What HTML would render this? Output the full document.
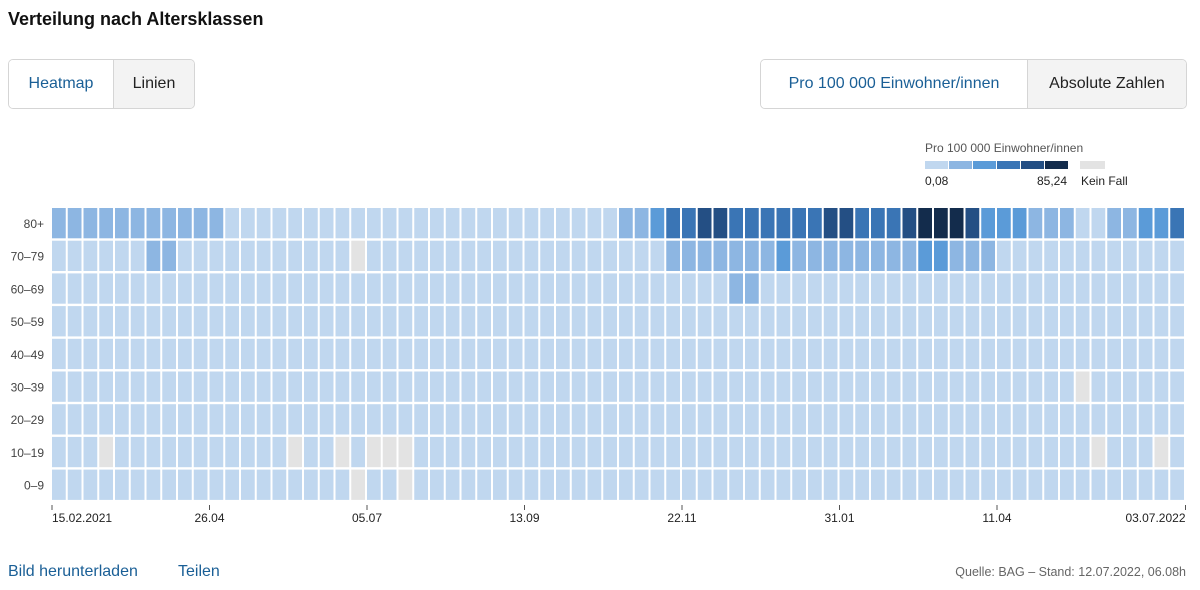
<!DOCTYPE html>
<html><head><meta charset="utf-8">
<style>
body{margin:0;width:1200px;height:590px;background:#fff;font-family:"Liberation Sans",sans-serif;position:relative;overflow:hidden}
.t{position:absolute;left:8px;top:9px;font-size:18px;font-weight:bold;color:#111}
.grp{position:absolute;top:59px;height:48px;border:1px solid #d5d5d5;border-radius:5px;display:flex;overflow:hidden;font-size:16px}
.grp div{display:flex;align-items:center;justify-content:center}
.a{color:#1a5f96;background:#fff}
.b{color:#222;background:#f3f3f3;border-left:1px solid #d5d5d5}
.foot{position:absolute;top:563px;font-size:16px;color:#1a5f96}
</style></head><body>
<div class="t">Verteilung nach Altersklassen</div>
<div class="grp" style="left:8px;width:185px"><div class="a" style="width:104px">Heatmap</div><div class="b" style="flex:1">Linien</div></div>
<div class="grp" style="left:760px;width:425px"><div class="a" style="width:266px">Pro 100 000 Einwohner/innen</div><div class="b" style="flex:1">Absolute Zahlen</div></div>
<svg id="s" width="1200" height="590" style="position:absolute;left:0;top:0" font-family="Liberation Sans, sans-serif"></svg>
<div class="foot" style="left:8px">Bild herunterladen</div>
<div class="foot" style="left:178px">Teilen</div>
<div style="position:absolute;right:14px;top:565px;font-size:12.5px;color:#666">Quelle: BAG – Stand: 12.07.2022, 06.08h</div>
<script>
(function(){
var C=['#c0d7ef','#8db6e2','#5b9bd8','#3a75b5','#244f84','#132c4c'],G='#e3e3e3';
var N=72,rows=[];
for(var r=0;r<9;r++){rows.push(new Array(N).fill(0));}
var r0=rows[0];
for(var i=0;i<=10;i++)r0[i]=1;
var t=[1,1,2,3,3,4,4,3,3,3,3,3,3,4,4,3,3,3,4,5,5,5,4,2,2,2,1,1,1,0,0,1,1,2,2,3];
for(var i=0;i<t.length;i++)r0[36+i]=t[i];
var r1=rows[1];r1[6]=1;r1[7]=1;r1[19]=-1;
for(var i=39;i<=59;i++)r1[i]=1;r1[46]=2;r1[55]=2;r1[56]=2;
rows[2][43]=1;rows[2][44]=1;
rows[5][65]=-1;
[3,15,18,20,21,22,66,70].forEach(function(c){rows[7][c]=-1});
rows[8][19]=-1;rows[8][22]=-1;
var s='',pw=15.75,ph=32.7,x0=52,y0=208;
var labs=['80+','70–79','60–69','50–59','40–49','30–39','20–29','10–19','0–9'];
for(var r=0;r<9;r++){
 s+='<text x="44" y="'+(y0+r*ph+20)+'" font-size="12" fill="#444" text-anchor="end">'+labs[r]+'</text>';
 for(var c=0;c<N;c++){var v=rows[r][c];
  s+='<rect x="'+(x0+c*pw).toFixed(2)+'" y="'+(y0+r*ph).toFixed(2)+'" width="'+(pw-2).toFixed(2)+'" height="'+(ph-2.4).toFixed(2)+'" fill="'+(v<0?G:C[v])+'"/>';}
}
var tk=[[0,'15.02.2021','start'],[10,'26.04','middle'],[20,'05.07','middle'],[30,'13.09','middle'],[40,'22.11','middle'],[50,'31.01','middle'],[60,'11.04','middle'],[72,'03.07.2022','end']];
tk.forEach(function(k){var x=x0+k[0]*pw-(k[0]==72?0.5:0);
 s+='<line x1="'+x+'" x2="'+x+'" y1="505" y2="510" stroke="#555"/>';
 s+='<text x="'+x+'" y="522" font-size="12" fill="#222" text-anchor="'+k[2]+'">'+k[1]+'</text>';});
s+='<text x="925" y="152" font-size="12" fill="#555">Pro 100 000 Einwohner/innen</text>';
for(var i=0;i<6;i++)s+='<rect x="'+(925+i*24)+'" y="161" width="23" height="8" fill="'+C[i]+'"/>';
s+='<rect x="1080" y="161" width="25" height="8" fill="'+G+'"/>';
s+='<text x="925" y="185" font-size="12" fill="#222">0,08</text><text x="1067" y="185" font-size="12" fill="#222" text-anchor="end">85,24</text><text x="1081" y="185" font-size="12" fill="#222">Kein Fall</text>';
document.getElementById('s').innerHTML=s;
})();
</script>
</body></html>
